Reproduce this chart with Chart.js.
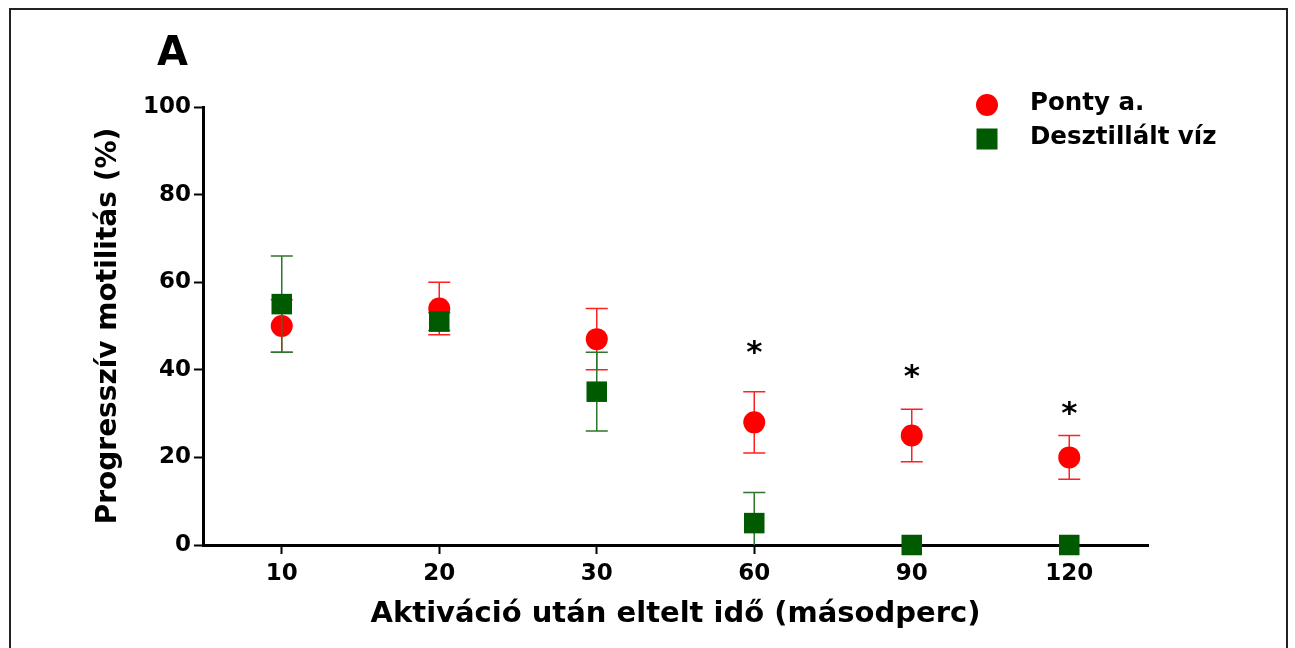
<!DOCTYPE html>
<html lang="hu">
<head>
  <meta charset="UTF-8">
  <title>Progresszív motilitás</title>
  <script src="https://cdn.jsdelivr.net/npm/chart.js"></script>
  <style>
    html, body { margin: 0; background: #fff; overflow: hidden; }
    /* thin frame round the figure, open at the bottom like the scan */
    #frame {
      position: absolute; left: 9px; top: 8px;
      width: 1275px; height: 700px;
      border: 2px solid #222; border-bottom: none;
    }
    #chart-container { position: absolute; left: 0; top: 0; width: 1295px; height: 648px; }
  </style>
</head>
<body>
  <div id="frame"></div>
  <div id="chart-container">
    <canvas id="motility" width="1295" height="648"></canvas>
  </div>
  <script>
    // Data
    const timePoints = ['10', '20', '30', '60', '90', '120'];
    const pontyMean = [50, 54, 47, 28, 25, 20];
    const pontySD   = [6, 6, 7, 7, 6, 5];
    const vizMean   = [55, 51, 35, 5, 0, 0];
    const vizSD     = [11, 2, 9, 7, 0, 0];
    const starLevel = [null, null, null, 45, 39.5, 31];   // where the * marks sit
    const yTicks    = [0, 20, 40, 60, 80, 100];
    const seriesNames = ['Ponty a.', 'Desztillált víz'];
    const panelLetter = 'A';

    const FONT = 'DejaVu Sans';
    Chart.defaults.font.family = FONT;
    Chart.defaults.color = '#000';

    // Error bars drawn just before each dataset's markers
    const errorBarPlugin = {
      id: 'errorBars',
      beforeDatasetDraw(chart, args) {
        const ds = chart.data.datasets[args.index];
        if (!ds.sd) return;
        const ctx = chart.ctx;
        const xs = chart.scales.x, ys = chart.scales.y;
        ctx.save();
        ctx.strokeStyle = ds.errorColor;
        ctx.lineWidth = 1.5;
        ds.data.forEach((v, i) => {
          const s = ds.sd[i];
          if (!s) return;
          const px = xs.getPixelForValue(i);
          const low = Math.max(v - s, ys.min);
          const top = ys.getPixelForValue(v + s);
          const bot = ys.getPixelForValue(low);
          ctx.beginPath();
          ctx.moveTo(px, top); ctx.lineTo(px, bot);
          ctx.moveTo(px - 11, top); ctx.lineTo(px + 11, top);
          if (v - s >= ys.min) { ctx.moveTo(px - 11, bot); ctx.lineTo(px + 11, bot); }
          ctx.stroke();
        });
        ctx.restore();
      }
    };

    // Asterisks, panel letter and the legend box
    const decorPlugin = {
      id: 'decor',
      afterDraw(chart) {
        const { ctx, chartArea } = chart;
        const xs = chart.scales.x, ys = chart.scales.y;
        ctx.save();
        ctx.fillStyle = '#000';
        ctx.textAlign = 'center';
        ctx.textBaseline = 'alphabetic';
        ctx.font = 'bold 31px ' + FONT;
        starLevel.forEach((v, i) => {
          if (v === null) return;
          ctx.fillText('*', xs.getPixelForValue(i), ys.getPixelForValue(v) + 14);
        });

        ctx.textAlign = 'left';
        ctx.font = 'bold 40px ' + FONT;
        ctx.fillText(panelLetter, chartArea.left - 46, chartArea.top - 42);

        // legend
        const lx = chartArea.right - 161;
        const ly = chartArea.top - 2;
        ctx.font = 'bold 24.5px ' + FONT;
        ctx.textBaseline = 'middle';
        chart.data.datasets.forEach((ds, k) => {
          const cy = ly + k * 34;
          ctx.fillStyle = ds.backgroundColor;
          if (ds.pointStyle === 'circle') {
            ctx.beginPath();
            ctx.arc(lx, cy, 11, 0, Math.PI * 2);
            ctx.fill();
          } else {
            ctx.fillRect(lx - 10.5, cy - 10.5, 21, 21);
          }
          ctx.fillStyle = '#000';
          ctx.fillText(ds.label, lx + 43, cy - 1);
        });
        ctx.restore();
      }
    };

    const ctx = document.getElementById('motility').getContext('2d');
    new Chart(ctx, {
      type: 'line',
      data: {
        labels: timePoints,
        datasets: [
          {
            label: seriesNames[0],
            data: pontyMean,
            sd: pontySD,
            errorColor: '#ff2020',
            showLine: false,
            pointStyle: 'circle',
            pointRadius: 11,
            pointBorderWidth: 0,
            backgroundColor: '#ff0000',
            borderColor: '#ff0000',
            clip: false,
            order: 1
          },
          {
            label: seriesNames[1],
            data: vizMean,
            sd: vizSD,
            errorColor: '#2b762b',
            showLine: false,
            pointStyle: 'rect',
            pointRadius: 14.5,
            pointBorderWidth: 0,
            backgroundColor: '#005a00',
            borderColor: '#005a00',
            clip: false,
            order: 0
          }
        ]
      },
      options: {
        responsive: false,
        animation: false,
        layout: { padding: { top: 107, right: 147, left: 0, bottom: 0 } },
        plugins: {
          legend: { display: false },
          tooltip: { enabled: false }
        },
        scales: {
          x: {
            type: 'category',
            offset: true,
            grid: { display: true, drawOnChartArea: false, drawTicks: true, tickLength: 9, tickWidth: 2, tickColor: '#000' },
            border: { display: true, color: '#000', width: 3 },
            ticks: { color: '#000', font: { size: 23, weight: 'bold' }, padding: 6, maxRotation: 0 },
            title: {
              display: true,
              text: 'Aktiváció után eltelt idő (másodperc)',
              color: '#000',
              font: { size: 29, weight: 'bold' },
              padding: { top: 0, bottom: 16 }
            },
            afterFit(scale) { scale.height = 103; }
          },
          y: {
            min: 0,
            max: 100,
            grid: { display: true, drawOnChartArea: false, drawTicks: true, tickLength: 9, tickWidth: 2, tickColor: '#000' },
            border: { display: true, color: '#000', width: 3 },
            ticks: { color: '#000', font: { size: 23, weight: 'bold' }, padding: 3 },
            afterBuildTicks(scale) { scale.ticks = yTicks.map(v => ({ value: v })); },
            title: {
              display: true,
              text: 'Progresszív motilitás (%)',
              color: '#000',
              font: { size: 28, weight: 'bold' },
              padding: { top: 92, bottom: 0 }
            },
            afterFit(scale) { scale.width = 203; }
          }
        }
      },
      plugins: [errorBarPlugin, decorPlugin]
    });
  </script>
</body>
</html>
